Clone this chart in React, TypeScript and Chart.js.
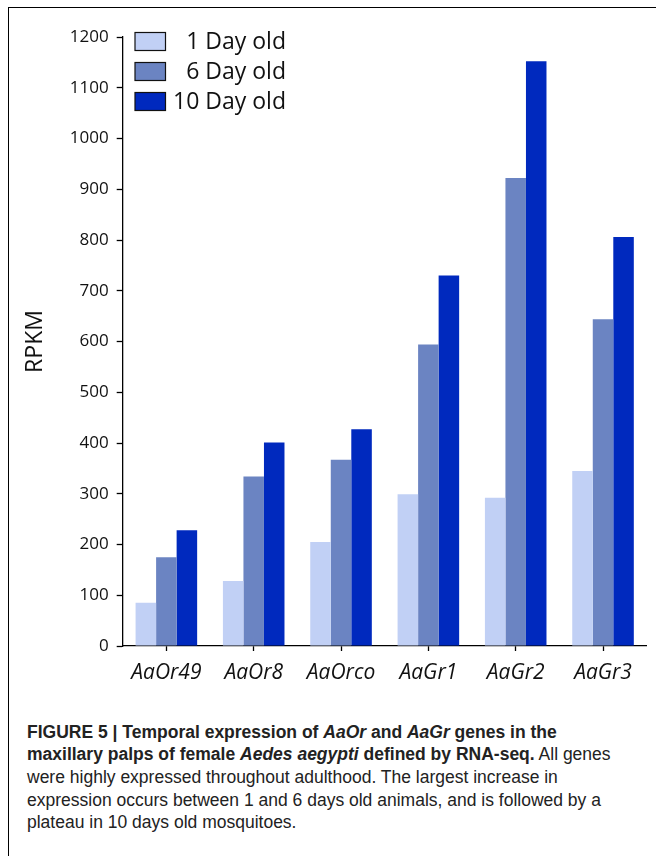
import React, { useEffect, useRef } from "react";
import { Chart, registerables } from "chart.js";

Chart.register(...registerables);

const genes = ["AaOr49", "AaOr8", "AaOrco", "AaGr1", "AaGr2", "AaGr3"];
const seriesNames = ["1 Day old", "6 Day old", "10 Day old"];
const day1 = [85, 128, 205, 299, 292, 345];
const day6 = [175, 334, 367, 594, 922, 644];
const day10 = [228, 401, 427, 730, 1152, 806];
const seriesColors = ["#c1d0f5", "#6b84c2", "#0029be"];
const yMax = 1200;
const yStep = 100;

const legendPlugin = {
  id: "customLegend",
  afterDraw(chart: any) {
    const ctx = chart.ctx;
    ctx.save();
    chart.data.datasets.forEach((ds: any, i: number) => {
      const x = 135;
      const y = 32.5 + i * 30;
      ctx.fillStyle = ds.backgroundColor;
      ctx.fillRect(x, y, 30.5, 18);
      ctx.strokeStyle = "#111";
      ctx.lineWidth = 1.2;
      ctx.strokeRect(x, y, 30.5, 18);
      ctx.fillStyle = "#111";
      ctx.font = "23px 'Open Sans'";
      ctx.textAlign = "right";
      ctx.textBaseline = "middle";
      ctx.fillText(ds.label, 286, y + 9.5);
    });
    ctx.restore();
  },
};

function ChartView() {
  const ref = useRef<HTMLCanvasElement | null>(null);
  useEffect(() => {
    if (!ref.current) return;
    const values = [day1, day6, day10];
    const chart = new Chart(ref.current, {
      type: "bar",
      data: {
        labels: genes,
        datasets: seriesNames.map((name, i) => ({
          label: name,
          data: values[i],
          backgroundColor: seriesColors[i],
          borderWidth: 0,
          barPercentage: 1,
          categoryPercentage: 0.705,
        })),
      },
      options: {
        animation: false,
        responsive: false,
        devicePixelRatio: 1,
        layout: { padding: { top: 37, right: 9.3, left: 0, bottom: 0 } },
        plugins: { legend: { display: false }, tooltip: { enabled: false } },
        scales: {
          x: {
            grid: {
              display: true,
              drawOnChartArea: false,
              offset: false,
              tickLength: 5,
              color: "#000",
              tickWidth: 1.3,
            },
            border: { color: "#000", width: 1.3 },
            ticks: {
              color: "#111",
              font: { family: "'Open Sans'", style: "italic", size: 21 },
              padding: 9,
              maxRotation: 0,
            },
            afterFit: (s: any) => {
              s.height = 55;
            },
          },
          y: {
            min: 0,
            max: yMax,
            ticks: {
              stepSize: yStep,
              color: "#111",
              font: { family: "'Open Sans'", size: 17 },
              padding: 8,
              callback: (v: any) => String(v),
            },
            grid: {
              drawOnChartArea: false,
              tickLength: 6,
              color: "#000",
              tickWidth: 1.3,
            },
            border: { color: "#000", width: 1.3 },
            title: {
              display: true,
              text: "RPKM",
              color: "#111",
              font: { family: "'Open Sans'", size: 23 },
              padding: { top: 22, bottom: 0 },
            },
            afterFit: (s: any) => {
              s.width = 122.7;
            },
          },
        },
      },
      plugins: [legendPlugin],
    });
    return () => chart.destroy();
  }, []);
  return (
    <canvas
      ref={ref}
      width={656}
      height={701}
      style={{ position: "absolute", left: 0, top: 0, width: 656, height: 701 }}
    />
  );
}

const lineStyle: React.CSSProperties = { whiteSpace: "nowrap" };

export default function App() {
  return (
    <div
      style={{
        position: "absolute",
        left: 0,
        top: 0,
        width: 656,
        height: 856,
        background: "#fff",
        overflow: "hidden",
      }}
    >
      <div
        style={{
          position: "absolute",
          left: 7.5,
          top: 6.5,
          width: 660,
          height: 860,
          borderTop: "1.4px solid #000",
          borderLeft: "1.4px solid #000",
        }}
      />
      <ChartView />
      <div
        style={{
          position: "absolute",
          left: 27,
          top: 720.6,
          fontFamily: "'Liberation Sans', Arial, sans-serif",
          fontSize: 17.5,
          lineHeight: "22.7px",
          color: "#222",
        }}
      >
        <div style={lineStyle}>
          <b>
            FIGURE 5 | Temporal expression of <i>AaOr</i> and <i>AaGr</i> genes in the
          </b>
        </div>
        <div style={lineStyle}>
          <b>
            maxillary palps of female <i>Aedes aegypti</i> defined by RNA-seq.
          </b>{" "}
          All genes
        </div>
        <div style={lineStyle}>
          were highly expressed throughout adulthood. The largest increase in
        </div>
        <div style={lineStyle}>
          expression occurs between 1 and 6 days old animals, and is followed by a
        </div>
        <div style={lineStyle}>plateau in 10 days old mosquitoes.</div>
      </div>
    </div>
  );
}
